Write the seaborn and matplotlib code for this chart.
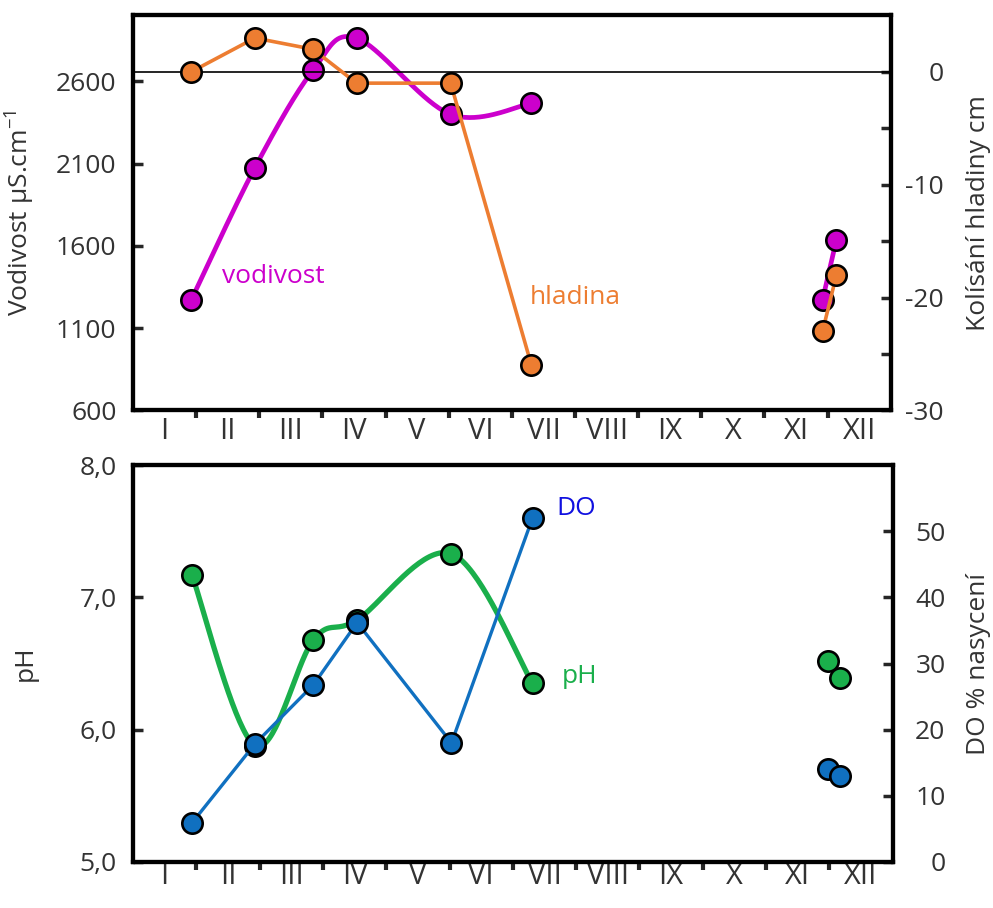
import numpy as np
import pandas as pd
import matplotlib
matplotlib.use('Agg')
import matplotlib.pyplot as plt
import seaborn as sns
from matplotlib.ticker import FuncFormatter

sns.set_style("white")
plt.rcParams['font.family'] = ['Open Sans', 'DejaVu Sans']
plt.rcParams['mathtext.fontset'] = 'custom'
plt.rcParams['mathtext.rm'] = 'Open Sans'
plt.rcParams['mathtext.it'] = 'Open Sans'

months = ['I', 'II', 'III', 'IV', 'V', 'VI', 'VII', 'VIII', 'IX', 'X', 'XI', 'XII']

# --- top panel: conductivity (left) and water level (right) ---
vod_x = [0.92, 1.93, 2.85, 3.54, 5.03, 6.31]
vod_y = [1270, 2075, 2667, 2862, 2399, 2466]
vod_x2 = [10.92, 11.14]
vod_y2 = [1271, 1637]

hlad_x = [0.92, 1.93, 2.85, 3.54, 5.03, 6.31]
hlad_y = [0, 3, 2, -1, -1, -26]
hlad_x2 = [10.92, 11.14]
hlad_y2 = [-23, -18]

# --- bottom panel: pH (left) and DO saturation (right) ---
ph_x = [0.93, 1.93, 2.85, 3.54, 5.03, 6.31]
ph_y = [7.17, 5.88, 6.68, 6.83, 7.33, 6.35]
ph_x2 = [10.98, 11.17]
ph_y2 = [6.52, 6.39]

do_x = [0.93, 1.93, 2.85, 3.54, 5.03, 6.31]
do_y = [5.9, 17.9, 26.8, 36.2, 18.0, 52.0]
do_x2 = [10.98, 11.17]
do_y2 = [14.1, 13.0]

C_VOD = '#CC00CC'
C_HLAD = '#ED7D31'
C_PH = '#1AAF4B'
C_DO = '#1070C0'
TXT = '#333333'
FS_TICK = 19
FS_MONTH = 21
FS_LABEL = 19
FS_NOTE = 19


def smooth(x, y, sx, sy, n=40):
    """Excel-like smoothed line (Catmull-Rom bezier) computed in pixel-ish space."""
    P = np.column_stack([np.asarray(x) / sx, np.asarray(y) / sy])
    P = np.vstack([P[0], P, P[-1]])
    t = np.linspace(0, 1, n)[:, None]
    out = []
    for i in range(1, len(P) - 2):
        p0, p1, p2, p3 = P[i - 1], P[i], P[i + 1], P[i + 2]
        c1 = p1 + (p2 - p0) / 6
        c2 = p2 - (p3 - p1) / 6
        seg = (1 - t) ** 3 * p1 + 3 * (1 - t) ** 2 * t * c1 + 3 * (1 - t) * t ** 2 * c2 + t ** 3 * p2
        out.append(seg if i == 1 else seg[1:])
    S = np.vstack(out)
    return S[:, 0] * sx, S[:, 1] * sy


def line(ax, x, y, color, lw):
    sns.lineplot(x=x, y=y, sort=False, estimator=None, color=color, lw=lw, ax=ax, zorder=2)


def dots(ax, x, y, color):
    sns.scatterplot(x=x, y=y, s=215, color=color, edgecolor='black', linewidth=1.9, ax=ax, zorder=3)


def style_axes(ax, ax2, month_pad):
    for a in (ax, ax2):
        for sp in a.spines.values():
            sp.set_linewidth(3)
            sp.set_color('black')
    ax.set_xlim(0, 12)
    ax.set_xticks(range(1, 12))
    ax.set_xticks(np.arange(0.5, 12, 1), minor=True)
    ax.set_xticklabels(months, minor=True)
    ax.tick_params(axis='x', which='major', direction='out', length=6, width=3,
                   labelbottom=False, bottom=True)
    ax.tick_params(axis='x', which='minor', length=0, pad=month_pad, labelsize=FS_MONTH,
                   labelcolor=TXT)
    ax.tick_params(axis='y', direction='in', length=7, width=2.5, labelsize=FS_TICK,
                   labelcolor=TXT, pad=12, left=True)
    ax2.tick_params(axis='y', direction='in', length=7, width=2.5, labelsize=FS_TICK,
                    labelcolor=TXT, pad=38, right=True)
    ax.yaxis.label.set_color(TXT)
    ax2.yaxis.label.set_color(TXT)


fig = plt.figure(figsize=(9.93, 9.08), dpi=100)

# ===================== TOP =====================
ax = fig.add_axes([0.134, 0.548, 0.763, 0.435])
ax2 = ax.twinx()

vx, vy = smooth(vod_x, vod_y, 12 / 758, 2400 / 395)
line(ax, vx, vy, C_VOD, 3.4)
line(ax, vod_x2, vod_y2, C_VOD, 3.4)
dots(ax, vod_x + vod_x2, vod_y + vod_y2, C_VOD)
ax.set_ylim(600, 3000)
ax.set_yticks([600, 1100, 1600, 2100, 2600])
ax.set_ylabel('Vodivost µS.cm$^{-1}$', fontsize=FS_LABEL)
ax.yaxis.set_label_coords(-0.127, 0.5)

ax2.axhline(0, color='black', lw=1.2, zorder=1)
line(ax2, hlad_x, hlad_y, C_HLAD, 2.6)
line(ax2, hlad_x2, hlad_y2, C_HLAD, 2.6)
dots(ax2, hlad_x + hlad_x2, hlad_y + hlad_y2, C_HLAD)
ax2.set_ylim(-30, 5)
ax2.set_yticks(np.arange(-30, 1, 5))
ax2.yaxis.set_major_formatter(FuncFormatter(lambda v, p: f'{int(v)}' if v % 10 == 0 else ''))
ax2.set_ylabel('Kolísání hladiny cm', fontsize=FS_LABEL)
ax2.yaxis.set_label_coords(1.099, 0.5)

ax.text(2.22, 1411, 'vodivost', color=C_VOD, fontsize=FS_NOTE, ha='center', va='center')
ax2.text(7.0, -20.0, 'hladina', color=C_HLAD, fontsize=FS_NOTE, ha='center', va='center')
style_axes(ax, ax2, 5)

# ===================== BOTTOM =====================
bx = fig.add_axes([0.134, 0.0507, 0.765, 0.437])
bx2 = bx.twinx()

px, py = smooth(ph_x, ph_y, 12 / 760, 3 / 397)
line(bx, px, py, C_PH, 3.8)
dots(bx, ph_x + ph_x2, ph_y + ph_y2, C_PH)
bx.set_ylim(5, 8)
bx.set_yticks([5, 6, 7, 8])
bx.yaxis.set_major_formatter(FuncFormatter(lambda v, p: f'{v:.1f}'.replace('.', ',')))
bx.set_ylabel('pH', fontsize=FS_LABEL)
bx.yaxis.set_label_coords(-0.125, 0.5)

line(bx2, do_x, do_y, C_DO, 2.4)
dots(bx2, do_x + do_x2, do_y + do_y2, C_DO)
bx2.set_ylim(0, 60)
bx2.set_yticks([0, 10, 20, 30, 40, 50])
bx2.set_ylabel('DO % nasycení', fontsize=FS_LABEL)
bx2.yaxis.set_label_coords(1.097, 0.5)

bx2.text(7.0, 53.5, 'DO', color='#1010E0', fontsize=FS_NOTE, ha='center', va='center')
bx.text(7.06, 6.40, 'pH', color=C_PH, fontsize=FS_NOTE, ha='center', va='center')
style_axes(bx, bx2, 0)

# right-hand tick labels are right-aligned in the original
fig.canvas.draw()
for a in (ax2, bx2):
    for tick in a.yaxis.get_major_ticks():
        tick.label2.set_horizontalalignment('right')

fig.savefig('out.png', dpi=100)
